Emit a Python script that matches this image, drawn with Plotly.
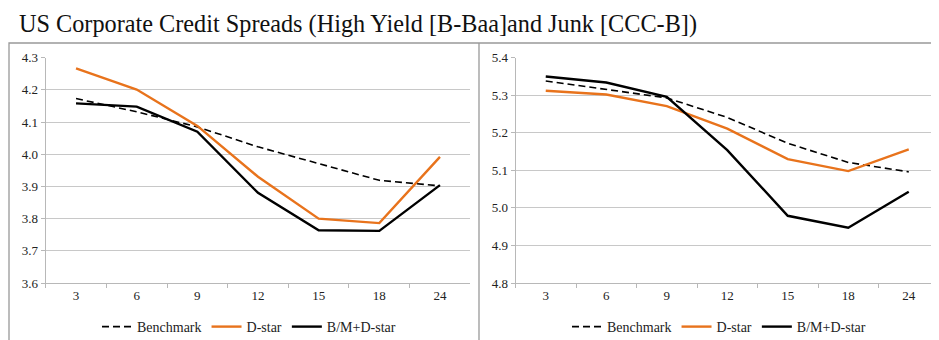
import plotly.graph_objects as go

horizons = ["3", "6", "9", "12", "15", "18", "24"]

hy_benchmark = [4.173, 4.132, 4.085, 4.023, 3.971, 3.919, 3.902]
hy_dstar = [4.267, 4.201, 4.088, 3.930, 3.800, 3.786, 3.992]
hy_bm_dstar = [4.158, 4.148, 4.070, 3.880, 3.764, 3.762, 3.904]

junk_benchmark = [5.338, 5.316, 5.293, 5.241, 5.172, 5.121, 5.096]
junk_dstar = [5.312, 5.302, 5.271, 5.211, 5.130, 5.098, 5.156]
junk_bm_dstar = [5.350, 5.334, 5.296, 5.154, 4.979, 4.947, 5.043]

series_names = ["Benchmark", "D-star", "B/M+D-star"]

title_text = "US Corporate Credit Spreads (High Yield [B-Baa]and Junk [CCC-B])"

# page body adds an 8px margin; lay out in screen pixels and compensate
OFF = 8
W, H = 939 - OFF, 340 - OFF
ORANGE = "#E8731C"
FONT = "Liberation Serif"

styles = [
    dict(color="black", width=1.6, dash="7px,4px"),
    dict(color=ORANGE, width=2.4),
    dict(color="black", width=2.4),
]

fig = go.Figure()

for i, (name, vals) in enumerate(zip(series_names, [hy_benchmark, hy_dstar, hy_bm_dstar])):
    fig.add_trace(go.Scatter(x=horizons, y=vals, mode="lines", name=name,
                             line=styles[i], xaxis="x", yaxis="y", legend="legend"))
for i, (name, vals) in enumerate(zip(series_names, [junk_benchmark, junk_dstar, junk_bm_dstar])):
    fig.add_trace(go.Scatter(x=horizons, y=vals, mode="lines", name=name,
                             line=styles[i], xaxis="x2", yaxis="y2", legend="legend2"))

def px_x(p):
    return (p - OFF) / W

def px_y(p):
    return 1 - (p - OFF) / H

grid = "#C8C8C8"
axcol = "#B8B8B8"

tickfont = dict(family=FONT, size=13, color="#222")

xcommon = dict(type="category", categoryorder="array", categoryarray=horizons,
               range=[-0.5, 6.5], showgrid=False, showline=True, linecolor=axcol,
               linewidth=1, ticks="outside", tickson="boundaries", ticklen=4,
               tickcolor=axcol, tickfont=tickfont, automargin=False,
               zeroline=False, fixedrange=True)
ycommon = dict(showgrid=True, gridcolor=grid, gridwidth=1, showline=True,
               linecolor=axcol, linewidth=1, ticks="outside", ticklen=4,
               tickcolor=axcol, dtick=0.1, tickformat=".1f",
               tickfont=tickfont, automargin=False,
               zeroline=False, fixedrange=True)

ydom = [px_y(283), px_y(57.7)]

fig.update_layout(
    template="none",
    width=W, height=H,
    margin=dict(l=0, r=0, t=0, b=0, autoexpand=False),
    paper_bgcolor="white", plot_bgcolor="white",
    font=dict(family=FONT, color="#222"),
    xaxis=dict(xcommon, domain=[px_x(45.7), px_x(470.3)], anchor="y"),
    yaxis=dict(ycommon, domain=ydom, range=[3.6, 4.3], anchor="x"),
    xaxis2=dict(xcommon, domain=[px_x(515.5), 1.0], anchor="y2"),
    yaxis2=dict(ycommon, domain=ydom, range=[4.8, 5.4], anchor="x2"),
    legend=dict(orientation="h", x=px_x(249), y=px_y(327), xanchor="center",
                yanchor="middle", font=dict(family=FONT, size=14, color="#222"),
                bgcolor="rgba(0,0,0,0)", itemwidth=30),
    legend2=dict(orientation="h", x=px_x(719), y=px_y(327), xanchor="center",
                 yanchor="middle", font=dict(family=FONT, size=14, color="#222"),
                 bgcolor="rgba(0,0,0,0)", itemwidth=30),
    showlegend=True,
)

# frame around panels
fig.add_shape(type="rect", xref="paper", yref="paper",
              x0=px_x(9), x1=px_x(950), y0=px_y(360), y1=px_y(43),
              line=dict(color="#999999", width=1.3), layer="below")
fig.add_shape(type="line", xref="paper", yref="paper",
              x0=px_x(479), x1=px_x(479), y0=px_y(360), y1=px_y(43),
              line=dict(color="#999999", width=1.3), layer="below")

fig.add_annotation(text=title_text, xref="paper", yref="paper",
                   x=px_x(17), y=px_y(24), xanchor="left", yanchor="middle",
                   showarrow=False, font=dict(family=FONT, size=24.25, color="#111"))

fig.write_html("out.html")
